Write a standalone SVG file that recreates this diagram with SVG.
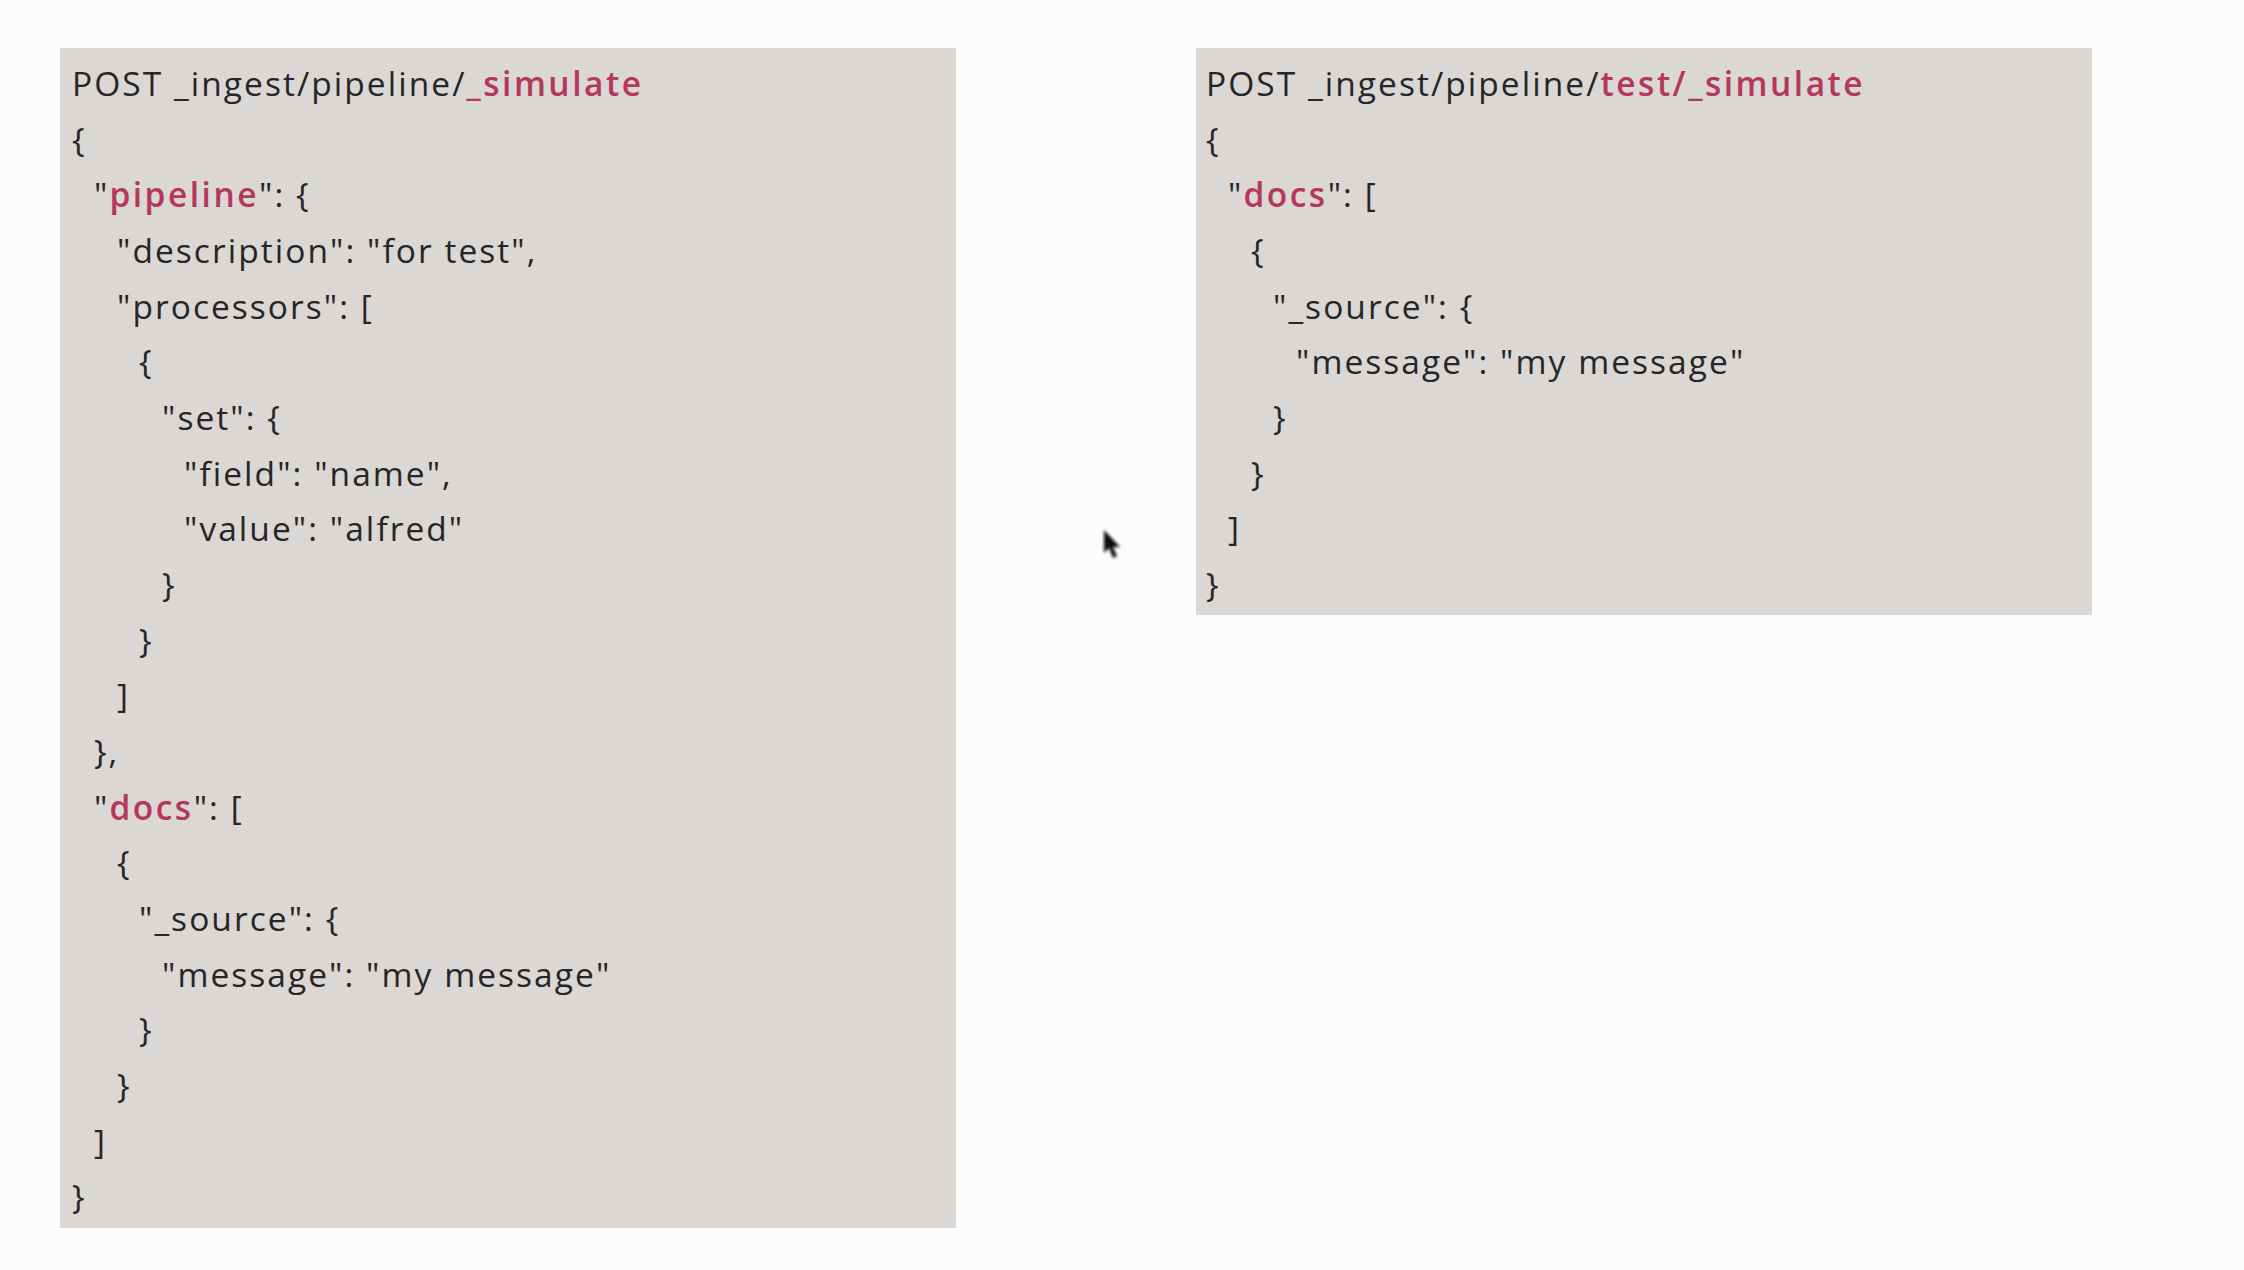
<svg xmlns="http://www.w3.org/2000/svg" width="2244" height="1270" viewBox="0 0 2244 1270">
<defs>
<style>
.bg{fill:#fcfcfc}
.box{fill:#dad7d4}
.t{font-family:"Open Sans","Noto Sans","Liberation Sans",sans-serif;font-size:33.5px;fill:#262626;letter-spacing:2.05px}
.r{fill:#b5375a;font-weight:600;letter-spacing:2.5px}
</style>
<filter id="blur" x="-50%" y="-50%" width="200%" height="200%"><feGaussianBlur stdDeviation="1.4"/></filter>
</defs>
<rect class="bg" x="0" y="0" width="2244" height="1270"/>
<g id="left-request" transform="translate(0,2.5)">
<rect class="box" x="60" y="45.5" width="896" height="1180"/>
<text class="t" x="72" y="93">POST _ingest/pipeline/<tspan class="r">_simulate</tspan></text>
<text class="t" x="72" y="149">{</text>
<text class="t" x="94" y="204">"<tspan class="r">pipeline</tspan>": {</text>
<text class="t" x="117" y="260">"description": "for test",</text>
<text class="t" x="117" y="316">"processors": [</text>
<text class="t" x="139" y="371">{</text>
<text class="t" x="162" y="427">"set": {</text>
<text class="t" x="184" y="483">"field": "name",</text>
<text class="t" x="184" y="538">"value": "alfred"</text>
<text class="t" x="162" y="594">}</text>
<text class="t" x="139" y="650">}</text>
<text class="t" x="117" y="705">]</text>
<text class="t" x="94" y="761">},</text>
<text class="t" x="94" y="817">"<tspan class="r">docs</tspan>": [</text>
<text class="t" x="117" y="872">{</text>
<text class="t" x="139" y="928">"_source": {</text>
<text class="t" x="162" y="984">"message": "my message"</text>
<text class="t" x="139" y="1039">}</text>
<text class="t" x="117" y="1095">}</text>
<text class="t" x="94" y="1151">]</text>
<text class="t" x="72" y="1206">}</text>
</g>
<g id="right-request" transform="translate(0,2.5)">
<rect class="box" x="1196" y="45.5" width="896" height="567"/>
<text class="t" x="1206" y="93">POST _ingest/pipeline/<tspan class="r">test/_simulate</tspan></text>
<text class="t" x="1206" y="149">{</text>
<text class="t" x="1228" y="204">"<tspan class="r">docs</tspan>": [</text>
<text class="t" x="1251" y="260">{</text>
<text class="t" x="1273" y="316">"_source": {</text>
<text class="t" x="1296" y="371">"message": "my message"</text>
<text class="t" x="1273" y="427">}</text>
<text class="t" x="1251" y="483">}</text>
<text class="t" x="1228" y="538">]</text>
<text class="t" x="1206" y="594">}</text>
</g>
<g id="cursor">
<polygon points="1104,530 1104,553 1109,548 1113,558 1117,556 1113,547 1120,547" fill="#111" filter="url(#blur)"/>
</g>
</svg>
